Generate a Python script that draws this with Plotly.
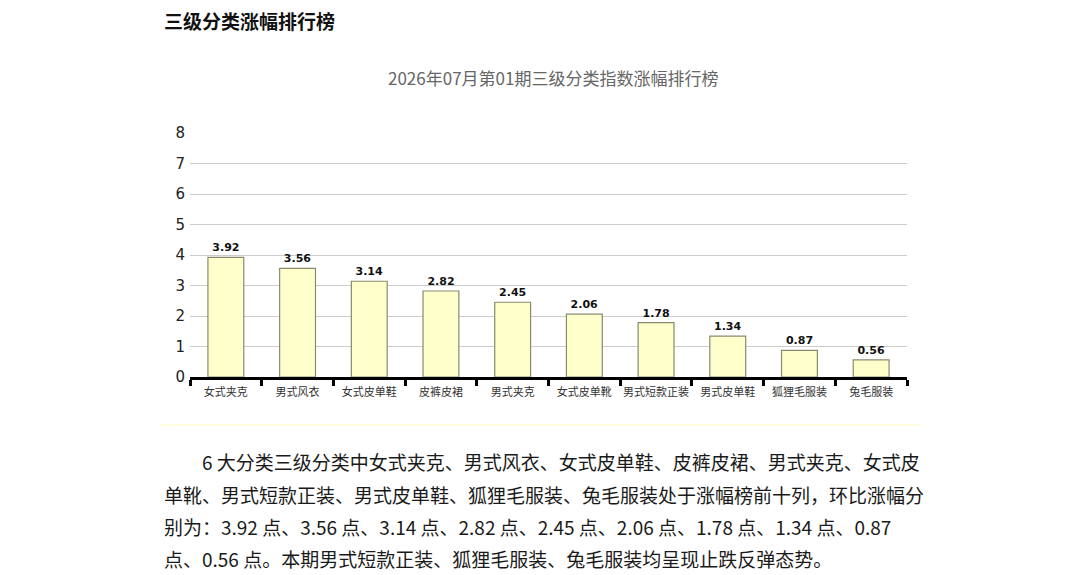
import plotly.graph_objects as go

# data
categories = ["女式夹克", "男式风衣", "女式皮单鞋", "皮裤皮裙", "男式夹克",
              "女式皮单靴", "男式短款正装", "男式皮单鞋", "狐狸毛服装", "兔毛服装"]
rise_values = [3.92, 3.56, 3.14, 2.82, 2.45, 2.06, 1.78, 1.34, 0.87, 0.56]
y_ticks = [0, 1, 2, 3, 4, 5, 6, 7, 8]

heading = "三级分类涨幅排行榜"
chart_title = "2026年07月第01期三级分类指数涨幅排行榜"
para_lines = [
    "6 大分类三级分类中女式夹克、男式风衣、女式皮单鞋、皮裤皮裙、男式夹克、女式皮",
    "单靴、男式短款正装、男式皮单鞋、狐狸毛服装、兔毛服装处于涨幅榜前十列，环比涨幅分",
    "别为：3.92 点、3.56 点、3.14 点、2.82 点、2.45 点、2.06 点、1.78 点、1.34 点、0.87",
    "点、0.56 点。本期男式短款正装、狐狸毛服装、兔毛服装均呈现止跌反弹态势。",
]

# the page puts the figure 8px in from the top-left corner
OFF = 8
W, H = 1082 - OFF, 575 - OFF
L, R, T, B = 190 - OFF, 907 - OFF, 133 - OFF, 377 - OFF

def px_x(x):
    return (x - OFF - L) / (R - L)

def px_y(y):
    return (B - (y - OFF)) / (B - T)

CJK = "Noto Sans CJK SC"

fig = go.Figure()
fig.add_trace(go.Bar(
    x=categories, y=rise_values,
    width=0.5,
    marker=dict(color="#FFFFCC", line=dict(color="#8a8a70", width=1.2)),
    text=[f"{v:.2f}" for v in rise_values],
    textposition="outside",
    textfont=dict(family="DejaVu Sans", size=11, color="#111"),
    texttemplate="<b>%{text}</b>",
    cliponaxis=False,
    hoverinfo="x+y",
))

fig.update_layout(
    width=W, height=H,
    margin=dict(l=L, r=W - R, t=T, b=H - B, pad=0),
    paper_bgcolor="white", plot_bgcolor="white",
    showlegend=False,
)

fig.update_xaxes(
    type="category",
    tickson="boundaries",
    tickangle=0,
    ticks="outside", ticklen=6, tickwidth=3, tickcolor="black",
    ticklabelstandoff=3,
    showline=True, linecolor="black", linewidth=3,
    showgrid=False,
    tickfont=dict(family=CJK, size=11, color="#333"),
)
fig.update_yaxes(
    range=[0, 8],
    tickvals=y_ticks,
    showgrid=True, gridcolor="#cccccc", gridwidth=1,
    zeroline=False, showline=False,
    ticks="", ticklabelstandoff=4,
    tickfont=dict(family="DejaVu Sans", size=15, color="#222"),
)

annots = [
    dict(text=f"<b>{heading}</b>", x=px_x(162), y=px_y(20), xanchor="left", yanchor="middle",
         font=dict(family=CJK, size=19, color="#111")),
    dict(text=chart_title, x=px_x(553), y=px_y(77), xanchor="center", yanchor="middle",
         font=dict(family=CJK, size=17, color="#666")),
]
line_y = [461, 494, 526, 558]
for i, (txt, yy) in enumerate(zip(para_lines, line_y)):
    annots.append(dict(text=txt, x=px_x(200 if i == 0 else 162), y=px_y(yy),
                       xanchor="left", yanchor="middle",
                       font=dict(family=CJK, size=19, color="#1a1a1a")))
for a in annots:
    a.update(xref="paper", yref="paper", showarrow=False)
fig.update_layout(annotations=annots)

fig.add_shape(type="line", xref="paper", yref="paper",
              x0=px_x(161), x1=px_x(920), y0=px_y(425), y1=px_y(425),
              line=dict(color="#FFFCE0", width=2))

fig.write_html("out.html")
